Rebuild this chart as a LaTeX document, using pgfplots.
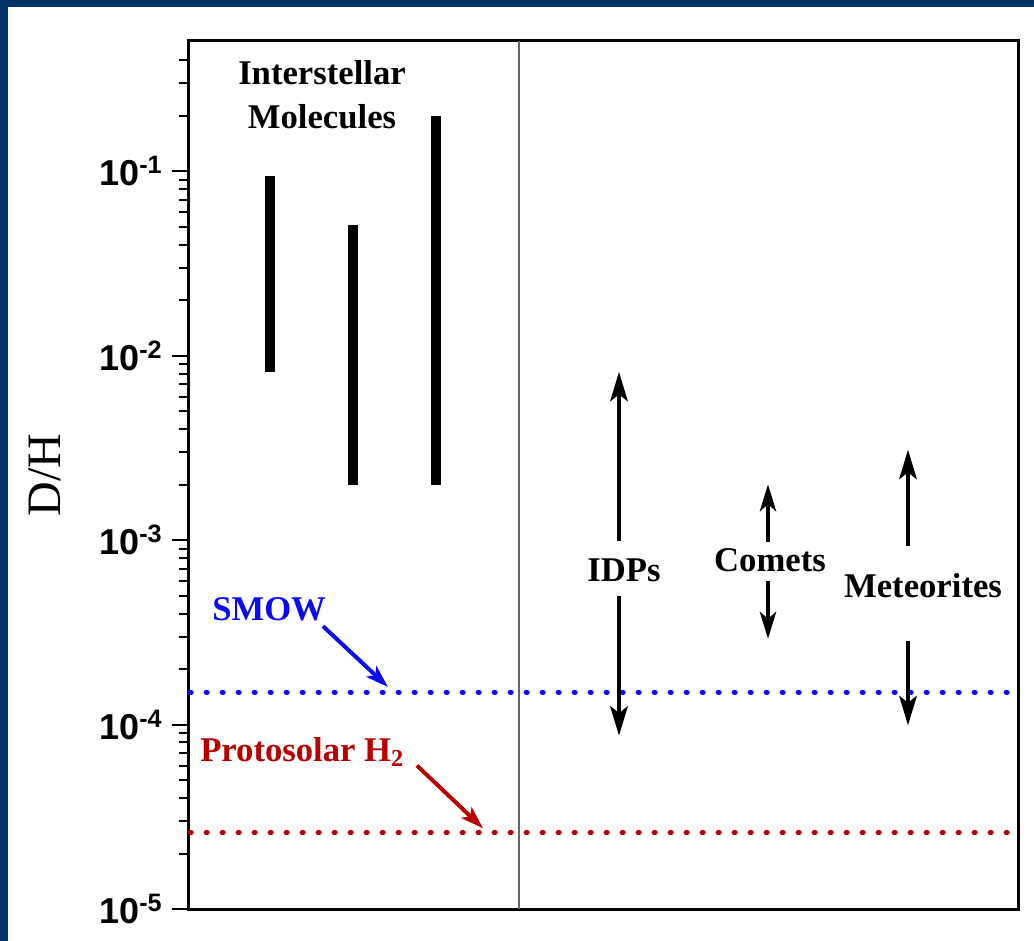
\documentclass[border=0pt]{standalone}
\usepackage{fontspec}
\setmainfont{Liberation Serif}
\newfontfamily\arial{Liberation Sans}
\usepackage{pgfplots}
\pgfplotsset{compat=1.18}
\usetikzlibrary{arrows.meta}
\definecolor{frameblue}{RGB}{0,52,102}
\definecolor{smowblue}{RGB}{10,10,245}
\definecolor{protored}{RGB}{185,0,0}
\begin{document}
\begin{tikzpicture}
\useasboundingbox (0,0) rectangle (775.5pt,705.75pt);
\fill[frameblue] (0,0) rectangle (775.5pt,705.75pt);
\fill[white] (6pt,0) rectangle (775.5pt,700.5pt);
\begin{axis}[
  at={(141pt,24pt)}, anchor=south west,
  scale only axis, width=622.5pt, height=651pt,
  xmin=188, xmax=1018, ymin=1e-5, ymax=0.51,
  ymode=log,
  xtick=\empty,
  ytick={1e-5,1e-4,1e-3,1e-2,1e-1},
  yticklabels={10\textsuperscript{-5},10\textsuperscript{-4},10\textsuperscript{-3},10\textsuperscript{-2},10\textsuperscript{-1}},
  minor ytick={2e-5,3e-5,4e-5,5e-5,6e-5,7e-5,8e-5,9e-5,
               2e-4,3e-4,4e-4,5e-4,6e-4,7e-4,8e-4,9e-4,
               2e-3,3e-3,4e-3,5e-3,6e-3,7e-3,8e-3,9e-3,
               2e-2,3e-2,4e-2,5e-2,6e-2,7e-2,8e-2,9e-2,
               2e-1,3e-1,4e-1},
  ytick pos=left,
  tick align=outside,
  major tick length=12pt, minor tick length=7pt,
  every tick/.style={black, line width=1.5pt},
  axis line style={line width=2.25pt},
  yticklabel style={font=\arial\bfseries\fontsize{27}{27}\selectfont, inner sep=7pt, text=black},
  ylabel={D/H},
  ylabel style={at={(axis description cs:-0.172,0.5)}, anchor=center, font=\fontsize{36}{36}\selectfont},
  clip=false,
]
% divider
\addplot[gray!80!black, line width=1.2pt] coordinates {(519,1e-5) (519,0.51)};
% reference levels
\addplot[smowblue, line width=3.6pt, dash pattern=on 1pt off 11pt, line cap=round] coordinates {(190,1.5e-4) (1018,1.5e-4)};
\addplot[protored, line width=3.6pt, dash pattern=on 1pt off 11pt, line cap=round] coordinates {(190,2.6e-5) (1018,2.6e-5)};
% interstellar molecules ranges
\addplot[black, line width=7.8pt] coordinates {(270,0.0082) (270,0.095)};
\addplot[black, line width=7.8pt] coordinates {(353,0.002) (353,0.051)};
\addplot[black, line width=7.8pt] coordinates {(436,0.002) (436,0.2)};
% arrows
\addplot[black, line width=3.6pt, -{Stealth[length=22pt,width=13pt,inset=5pt]}] coordinates {(619,9.9e-4) (619,8.2e-3)};
\addplot[black, line width=3.6pt, -{Stealth[length=22pt,width=13pt,inset=5pt]}] coordinates {(619,4.97e-4) (619,8.7e-5)};
\addplot[black, line width=3.6pt, -{Stealth[length=20pt,width=12pt,inset=5pt]}] coordinates {(768,9.75e-4) (768,2.01e-3)};
\addplot[black, line width=3.6pt, -{Stealth[length=20pt,width=12pt,inset=5pt]}] coordinates {(768,6.0e-4) (768,2.92e-4)};
\addplot[black, line width=3.6pt, -{Stealth[length=22pt,width=13pt,inset=5pt]}] coordinates {(908,9.3e-4) (908,3.1e-3)};
\addplot[black, line width=3.6pt, -{Stealth[length=22pt,width=13pt,inset=5pt]}] coordinates {(908,2.85e-4) (908,9.9e-5)};
% label arrows
\addplot[smowblue, line width=3pt, -{Stealth[length=17pt,width=11pt,inset=4pt]}] coordinates {(323,3.42e-4) (388,1.6e-4)};
\addplot[protored, line width=3pt, -{Stealth[length=17pt,width=11pt,inset=4pt]}] coordinates {(417,6.0e-5) (483,2.74e-5)};
% labels
\node[anchor=base, font=\bfseries\fontsize{26}{26}\selectfont] at (axis cs:322,0.295) {Interstellar};
\node[anchor=base, font=\bfseries\fontsize{26}{26}\selectfont] at (axis cs:322,0.171) {Molecules};
\node[anchor=base, font=\bfseries\fontsize{26}{26}\selectfont] at (axis cs:624,6.0e-4) {IDPs};
\node[anchor=base, font=\bfseries\fontsize{26}{26}\selectfont] at (axis cs:770,6.8e-4) {Comets};
\node[anchor=base, font=\bfseries\fontsize{26}{26}\selectfont] at (axis cs:923,4.9e-4) {Meteorites};
\node[anchor=base west, inner sep=0pt, text=smowblue, font=\bfseries\fontsize{26}{26}\selectfont] at (axis cs:212,3.65e-4) {SMOW};
\node[anchor=base west, inner sep=0pt, text=protored, font=\bfseries\fontsize{26}{26}\selectfont] at (axis cs:200,6.3e-5) {Protosolar H\textsubscript{2}};
\end{axis}
\end{tikzpicture}
\end{document}
